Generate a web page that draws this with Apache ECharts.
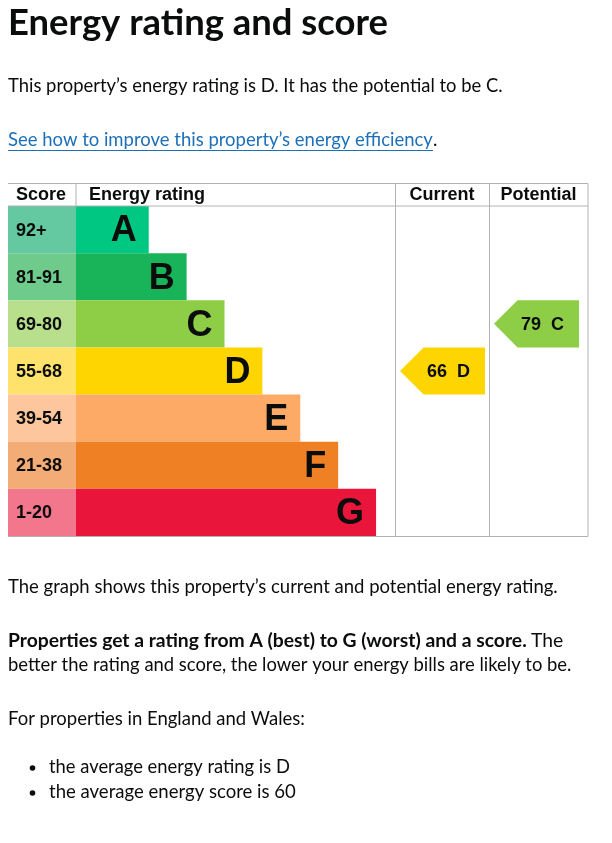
<!DOCTYPE html>
<html><head><meta charset="utf-8">
<script src="https://cdn.jsdelivr.net/npm/echarts@6/dist/echarts.min.js"></script>
<style>html,body{margin:0;padding:0;background:#fff}#c{width:612px;height:843px}</style>
</head><body><div id="c"></div>
<script>
// ---- data ----
const bands = ['A','B','C','D','E','F','G'];
const scoreRanges = ['92+','81-91','69-80','55-68','39-54','21-38','1-20'];
const barSteps = [1,2,3,4,5,6,7];
const bandColors = ['#00c781','#19b459','#8dce46','#ffd500','#fcaa65','#ef8023','#e9153b'];
const scoreColors = ['#64c8a1','#6fcb8c','#b8e08c','#ffe26b','#fdc69c','#f4ac76','#f3778c'];
const headers = ['Score','Energy rating','Current','Potential'];
const currentScore = 66, currentBand = 'D';
const potentialScore = 79, potentialBand = 'C';

// ---- layout ----
const TXT = '#0b0c0c', LINE = '#b1b4b6';
const BODY = 'Lato, "Noto Sans", sans-serif';
const TAB = '"Liberation Sans", Arial, sans-serif';
const T0 = 206, T1 = 536, HTOP = 183.5;
const cols = [8, 76, 395, 489, 588];

const mctx = document.createElement('canvas').getContext('2d');
function fit(text, weight, target, base) {
  mctx.font = weight + ' ' + base + 'px ' + BODY;
  return base * target / mctx.measureText(text).width;
}

const chart = echarts.init(document.getElementById('c'), null, {renderer: 'canvas'});

function grid(i) { return {left: cols[i], width: cols[i+1]-cols[i], top: T0, height: T1-T0}; }
const grids = [0,1,2,3].map(grid);
const xAxes = [
  {gridIndex:0, type:'value', min:0, max:1, show:false},
  {gridIndex:1, type:'value', min:-0.92, max:7.5, show:false},
  {gridIndex:2, type:'value', min:0, max:1, show:false},
  {gridIndex:3, type:'value', min:0, max:1, show:false}
];
const yAxes = [0,1,2,3].map(i => ({gridIndex:i, type:'category', data:bands, inverse:true, show:false}));

function scoreItem(params, api) {
  const idx = api.value(1);
  const c = api.coord([0, idx]);
  const h = api.size([0,1])[1];
  const cs = params.coordSys;
  return {type:'group', children:[
    {type:'rect', shape:{x:cs.x, y:c[1]-h/2, width:cs.width, height:h}, style:{fill:scoreColors[idx]}},
    {type:'text', x:cs.x+8, y:c[1]+1, style:{text:scoreRanges[idx], fontFamily:TAB, fontWeight:'bold', fontSize:18, fill:TXT, align:'left', verticalAlign:'middle'}}
  ]};
}
function ratingItem(params, api) {
  const idx = api.value(1);
  const end = api.coord([api.value(0), idx]);
  const h = api.size([0,1])[1];
  const x0 = params.coordSys.x;
  return {type:'group', children:[
    {type:'rect', shape:{x:x0, y:end[1]-h/2, width:end[0]-x0, height:h}, style:{fill:bandColors[idx]}},
    {type:'text', x:end[0]-12, y:end[1]+2, style:{text:bands[idx], fontFamily:TAB, fontWeight:'bold', fontSize:36, fill:TXT, align:'right', verticalAlign:'middle'}}
  ]};
}
function arrowItem(params, api) {
  const idx = api.value(1);
  const score = api.value(2);
  const c = api.coord([0, idx]);
  const h = api.size([0,1])[1];
  const x = params.coordSys.x;
  const top = c[1]-h/2, bot = c[1]+h/2;
  return {type:'group', children:[
    {type:'polygon', shape:{points:[[x+5,c[1]],[x+5+h/2,top],[x+90,top],[x+90,bot],[x+5+h/2,bot]]}, style:{fill:bandColors[idx]}},
    {type:'text', x:x+53.5, y:c[1]+1, style:{text:score+'  '+bands[idx], fontFamily:TAB, fontWeight:'bold', fontSize:18, fill:TXT, align:'center', verticalAlign:'middle'}}
  ]};
}

// ---- texts ----
const g = [];
function addText(text, x, y, weight, target, base, color) {
  const fs = fit(text, weight, target, base);
  g.push({type:'text', x:x, y:y, style:{text:text, fontFamily:BODY, fontWeight:weight, fontSize:fs, fill:color||TXT, align:'left', verticalAlign:'middle'}});
  return fs;
}
addText('Energy rating and score', 8, 23, 'bold', 380, 32);
addText('This property\u2019s energy rating is D. It has the potential to be C.', 8, 86, 'normal', 495, 18);
const linkText = 'See how to improve this property\u2019s energy efficiency';
const lfs = addText(linkText, 8, 140, 'normal', 425, 18, '#1d70b8');
g.push({type:'line', shape:{x1:8, y1:150.5, x2:433, y2:150.5}, style:{stroke:'#1d70b8', lineWidth:1}});
g.push({type:'text', x:433, y:140, style:{text:'.', fontFamily:BODY, fontSize:lfs, fill:TXT, align:'left', verticalAlign:'middle'}});
addText('The graph shows this property\u2019s current and potential energy rating.', 8, 587, 'normal', 550, 18);
const boldPart = 'Properties get a rating from A (best) to G (worst) and a score.';
const bfs = fit(boldPart, 'bold', 519, 18);
g.push({type:'text', x:8, y:641, style:{text:boldPart, fontFamily:BODY, fontWeight:'bold', fontSize:bfs, fill:TXT, align:'left', verticalAlign:'middle'}});
g.push({type:'text', x:531, y:641, style:{text:'The', fontFamily:BODY, fontWeight:'normal', fontSize:bfs, fill:TXT, align:'left', verticalAlign:'middle'}});
addText('better the rating and score, the lower your energy bills are likely to be.', 8, 665, 'normal', 564, 18);
addText('For properties in England and Wales:', 8, 719, 'normal', 297, 18);
addText('the average energy rating is D', 49, 767, 'normal', 241, 18);
addText('the average energy score is 60', 49, 792, 'normal', 247, 18);
[767, 792].forEach(y => g.push({type:'circle', shape:{cx:32.5, cy:y+1, r:2.8}, style:{fill:TXT}}));

// ---- table header and borders ----
const hdrX = [16, 89, 442, 538.5];
headers.forEach((h, i) => g.push({type:'text', x:hdrX[i], y:195.5, style:{text:h, fontFamily:TAB, fontWeight:'bold', fontSize:18, fill:TXT, align: i<2?'left':'center', verticalAlign:'middle'}}));
function ln(x1,y1,x2,y2){ g.push({type:'line', z:10, shape:{x1,y1,x2,y2}, style:{stroke:LINE, lineWidth:1}}); }
ln(8, HTOP, 588, HTOP);
ln(8, 206, 588, 206);
ln(8, 536.5, 588, 536.5);
ln(76, HTOP, 76, 206);
ln(395.5, HTOP, 395.5, 536.5);
ln(489.5, HTOP, 489.5, 536.5);
ln(588, HTOP, 588, 536.5);

chart.setOption({
  animation:false,
  grid: grids, xAxis: xAxes, yAxis: yAxes,
  graphic: g,
  series: [
    {type:'custom', xAxisIndex:0, yAxisIndex:0, renderItem:scoreItem, data: bands.map((b,i)=>[0, b])},
    {type:'custom', xAxisIndex:1, yAxisIndex:1, renderItem:ratingItem, data: bands.map((b,i)=>[barSteps[i], b])},
    {type:'custom', xAxisIndex:2, yAxisIndex:2, renderItem:arrowItem, data: [[0, currentBand, currentScore]]},
    {type:'custom', xAxisIndex:3, yAxisIndex:3, renderItem:arrowItem, data: [[0, potentialBand, potentialScore]]}
  ]
});
</script></body></html>
